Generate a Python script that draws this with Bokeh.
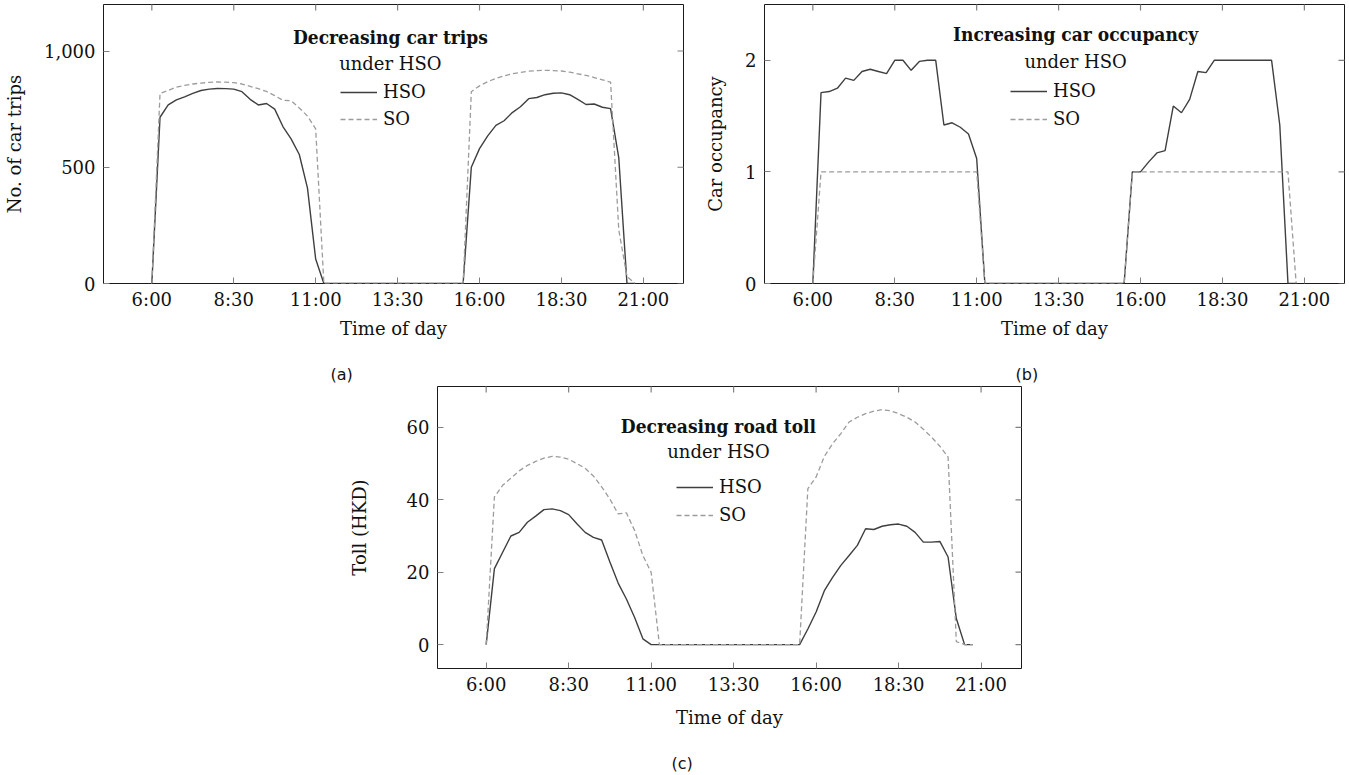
import math
from bokeh.plotting import figure
from bokeh.layouts import row, column
from bokeh.models import (Range1d, FixedTicker, Label, Legend, LegendItem, Title,
                          NumeralTickFormatter)
from bokeh.embed import file_html
from bokeh.resources import INLINE

# ---------------- data ----------------
TIMES = ["6:00", "6:15", "6:30", "6:45", "7:00", "7:15", "7:30", "7:45",
         "8:00", "8:15", "8:30", "8:45", "9:00", "9:15", "9:30", "9:45",
         "10:00", "10:15", "10:30", "10:45", "11:00", "11:15", "11:30", "11:45",
         "12:00", "12:15", "12:30", "12:45", "13:00", "13:15", "13:30", "13:45",
         "14:00", "14:15", "14:30", "14:45", "15:00", "15:15", "15:30", "15:45",
         "16:00", "16:15", "16:30", "16:45", "17:00", "17:15", "17:30", "17:45",
         "18:00", "18:15", "18:30", "18:45", "19:00", "19:15", "19:30", "19:45",
         "20:00", "20:15", "20:30", "20:45"]

X_TICK_LABELS = ["6:00", "8:30", "11:00", "13:30", "16:00", "18:30", "21:00"]

ZEROS = [0] * 18  # 11:15 .. 15:30

TRIPS_HSO = ([0, 715, 768, 790, 803, 818, 830, 836, 839, 838, 836, 825, 792, 768, 774, 750,
              675, 622, 555, 410, 105] + ZEROS +
             [500, 580, 635, 680, 700, 735, 760, 795, 800, 812, 818, 820, 812, 792, 770, 772,
              758, 752, 540, 0, 0])
TRIPS_SO = ([0, 818, 830, 845, 852, 858, 862, 865, 867, 866, 864, 858, 848, 838, 826, 808,
             788, 786, 755, 720, 665] + ZEROS +
            [825, 850, 868, 882, 893, 902, 908, 913, 916, 917, 916, 914, 909, 902, 895, 886,
             876, 866, 230, 30, 0])

OCC_HSO = ([0, 1.71, 1.72, 1.75, 1.84, 1.82, 1.90, 1.92, 1.90, 1.88, 2.0, 2.0, 1.91, 1.99,
            2.0, 2.0, 1.42, 1.44, 1.40, 1.34, 1.12] + ZEROS +
           [1.0, 1.0, 1.09, 1.17, 1.19, 1.59, 1.53, 1.65, 1.90, 1.89, 2.0, 2.0, 2.0, 2.0,
            2.0, 2.0, 2.0, 2.0, 1.42, 0, 0])
OCC_SO = ([0] + [1.0] * 20 + ZEROS + [1.0] * 20 + [0])

TOLL_HSO = ([0, 21.0, 25.5, 30.0, 31.0, 33.8, 35.5, 37.3, 37.5, 37.0, 35.9, 33.4, 31.0,
             29.6, 28.9, 22.8, 17.0, 12.6, 7.5, 1.6, 0] + ZEROS +
            [4.3, 9.0, 14.9, 18.6, 21.9, 24.6, 27.4, 32.0, 31.8, 32.7, 33.1, 33.3, 32.7,
             31.0, 28.3, 28.3, 28.5, 24.2, 7.2, 0, 0])
TOLL_SO = ([0, 40.8, 44.0, 46.0, 48.0, 49.5, 50.6, 51.5, 52.0, 51.8, 51.2, 50.0, 48.7,
            46.6, 43.6, 40.2, 36.1, 36.4, 31.5, 24.6, 20.0] + ZEROS +
           [43.1, 46.3, 52.0, 55.5, 58.3, 61.5, 62.8, 63.8, 64.5, 64.9, 64.6, 63.8, 62.8,
            61.5, 59.5, 57.3, 54.8, 51.8, 0.8, 0, 0])

A_YTICKS = [0, 500, 1000]
B_YTICKS = [0, 1, 2]
C_YTICKS = [0, 20, 40, 60]


def to_hours(s):
    h, m = s.split(":")
    return int(h) + int(m) / 60.0


X = [to_hours(t) for t in TIMES]
XTICKS = [to_hours(t) for t in X_TICK_LABELS]

# ---------------- style ----------------
FONT = "DejaVu Serif"
BOLD_FONT = "DejaVu Serif Condensed, DejaVu Serif"
CAP_FONT = "DejaVu Sans"
TICK_COLOR = "#808080"
HSO_COLOR = "#3f3f3f"
SO_COLOR = "#9c9c9c"
TEXT_COLOR = "#111111"
XMIN, XMAX = 4.525, 22.225


def make_panel(width, height, mbl, mbr, mbt, mbb, yr, yticks, ylabel, y_als, x_als,
               yhso, yso, title1, title2, tx, ty1, ty2, leg_loc, leg_spacing,
               caption, cap_offset, cap_standoff, yfmt=None):
    p = figure(width=width, height=height, x_range=Range1d(XMIN, XMAX),
               y_range=Range1d(*yr), output_backend="svg", toolbar_location=None,
               min_border_left=mbl, min_border_right=mbr, min_border_top=mbt,
               min_border_bottom=mbb)
    p.grid.visible = False
    p.outline_line_color = "#1a1a1a"
    p.outline_line_width = 1
    p.background_fill_color = "white"
    p.border_fill_color = None

    # bottom axis (the trailing empty line reserves room for the sub-caption)
    xa = p.xaxis[0]
    xa.ticker = FixedTicker(ticks=XTICKS)
    xa.major_label_overrides = {t: lab for t, lab in zip(XTICKS, X_TICK_LABELS)}
    xa.axis_label = "Time of day\n"
    xa.axis_label_standoff = x_als
    xa.major_label_standoff = 5
    # left axis
    ya = p.yaxis[0]
    ya.ticker = FixedTicker(ticks=yticks)
    if yfmt is not None:
        ya.formatter = yfmt
    ya.axis_label = ylabel
    ya.axis_label_standoff = y_als
    ya.major_label_standoff = 8
    for ax in (xa, ya):
        ax.axis_line_color = None
        ax.major_tick_in = 6
        ax.major_tick_out = 0
        ax.minor_tick_line_color = None
        ax.major_tick_line_color = TICK_COLOR
        ax.major_label_text_font = FONT
        ax.major_label_text_font_size = "18px"
        ax.major_label_text_color = TEXT_COLOR
        ax.axis_label_text_font = FONT
        ax.axis_label_text_font_size = "18px"
        ax.axis_label_text_font_style = "normal"
        ax.axis_label_text_color = TEXT_COLOR
        ax.axis_label_text_line_height = 1.0

    # mirrored inward ticks on the top and right edges (half of each dash is clipped away)
    p.scatter(XTICKS, [yr[1]] * len(XTICKS), marker="dash", size=12, angle=math.pi / 2,
              line_color=TICK_COLOR, line_width=1.2)
    p.scatter([XMAX] * len(yticks), yticks, marker="dash", size=12,
              line_color=TICK_COLOR, line_width=1.2)

    rh = p.line(X, yhso, line_color=HSO_COLOR, line_width=1.4)
    rs = p.line(X, yso, line_color=SO_COLOR, line_width=1.3, line_dash="5 3")

    p.add_layout(Label(x=tx, y=ty1, text=title1, text_font=BOLD_FONT, text_font_style="bold",
                       text_font_size="19px", text_align="center", text_baseline="middle",
                       text_color=TEXT_COLOR))
    p.add_layout(Label(x=tx, y=ty2, text=title2, text_font=FONT,
                       text_font_size="18px", text_align="center", text_baseline="middle",
                       text_color=TEXT_COLOR))

    leg = Legend(items=[LegendItem(label="HSO", renderers=[rh]),
                        LegendItem(label="SO", renderers=[rs])],
                 location=leg_loc, padding=0, margin=0, spacing=leg_spacing,
                 glyph_width=37, glyph_height=20, label_height=20, label_standoff=6,
                 label_text_font=FONT, label_text_font_size="18px",
                 label_text_color=TEXT_COLOR,
                 background_fill_alpha=0, border_line_alpha=0)
    p.add_layout(leg)

    # sub-figure caption below the axis
    p.add_layout(Title(text=caption, align="left", offset=cap_offset, text_font=CAP_FONT,
                       text_font_size="16px", text_font_style="normal",
                       text_color=TEXT_COLOR, standoff=cap_standoff), "below")
    return p


pa = make_panel(700, 386, 103, 17, 4, 103, (0, 1200), A_YTICKS, "No. of car trips", 16, 5,
                TRIPS_HSO, TRIPS_SO, "Decreasing car trips", "under HSO",
                13.28, 1062, 946, (237, 154), 6, "(a)", 227, 0,
                yfmt=NumeralTickFormatter(format="0,0"))
pb = make_panel(647, 386, 64, 3, 4, 103, (0, 2.5), B_YTICKS, "Car occupancy", 16, 5,
                OCC_HSO, OCC_SO, "Increasing car occupancy", "under HSO",
                14.02, 2.24, 1.989, (246, 154), 7, "(b)", 251, 0)
pc = make_panel(1024, 388, 437, 3, 0, 106, (-6.6, 71.3), C_YTICKS, "Toll (HKD)", 34, 9,
                TOLL_HSO, TOLL_SO, "Decreasing road toll", "under HSO",
                13.04, 60.27, 53.38, (239, 143), 7, "(c)", 234, 0)

layout = column(row(pa, pb), pc)

open("out.html", "w").write(file_html(layout, INLINE))
